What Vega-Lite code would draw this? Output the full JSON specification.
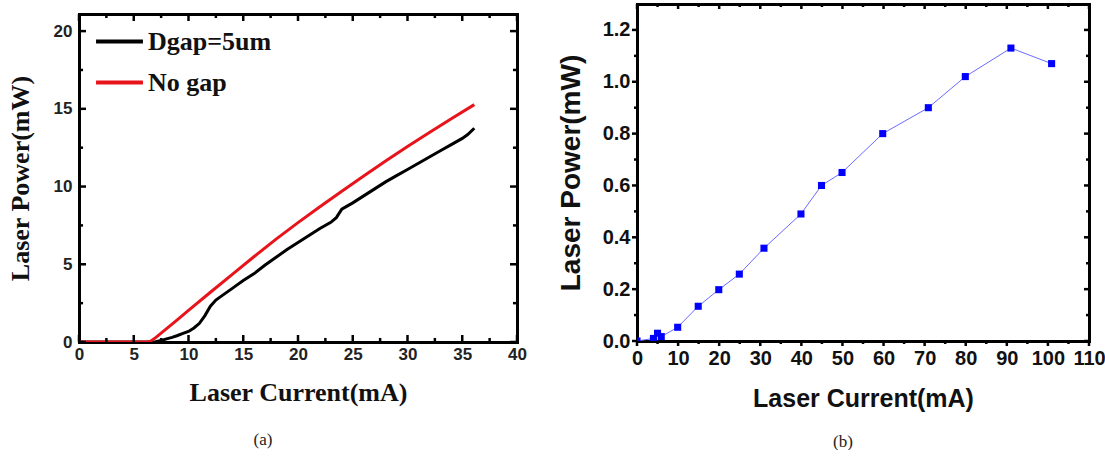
{
  "$schema": "https://vega.github.io/schema/vega-lite/v6.json",
  "padding": {"left": 7, "top": 2, "right": 0, "bottom": 0},
  "background": "white",
  "config": {"view": {"stroke": null}},
  "datasets": {
    "a": [
      {"series": "Dgap=5um", "current": 0, "power": 0},
      {"series": "Dgap=5um", "current": 6.5, "power": 0},
      {"series": "Dgap=5um", "current": 7, "power": 0.02},
      {"series": "Dgap=5um", "current": 7.5, "power": 0.1},
      {"series": "Dgap=5um", "current": 8, "power": 0.2},
      {"series": "Dgap=5um", "current": 8.5, "power": 0.3},
      {"series": "Dgap=5um", "current": 9, "power": 0.42},
      {"series": "Dgap=5um", "current": 9.5, "power": 0.55},
      {"series": "Dgap=5um", "current": 10, "power": 0.68},
      {"series": "Dgap=5um", "current": 10.5, "power": 0.9},
      {"series": "Dgap=5um", "current": 11, "power": 1.2},
      {"series": "Dgap=5um", "current": 11.5, "power": 1.7},
      {"series": "Dgap=5um", "current": 12, "power": 2.3},
      {"series": "Dgap=5um", "current": 12.5, "power": 2.7},
      {"series": "Dgap=5um", "current": 13, "power": 2.95},
      {"series": "Dgap=5um", "current": 14, "power": 3.45},
      {"series": "Dgap=5um", "current": 15, "power": 3.95},
      {"series": "Dgap=5um", "current": 16, "power": 4.4},
      {"series": "Dgap=5um", "current": 17, "power": 4.95},
      {"series": "Dgap=5um", "current": 18, "power": 5.45},
      {"series": "Dgap=5um", "current": 19, "power": 5.95},
      {"series": "Dgap=5um", "current": 20, "power": 6.4},
      {"series": "Dgap=5um", "current": 21, "power": 6.85},
      {"series": "Dgap=5um", "current": 22, "power": 7.3},
      {"series": "Dgap=5um", "current": 23, "power": 7.7},
      {"series": "Dgap=5um", "current": 23.5, "power": 8.0},
      {"series": "Dgap=5um", "current": 24, "power": 8.55},
      {"series": "Dgap=5um", "current": 25, "power": 8.95},
      {"series": "Dgap=5um", "current": 26, "power": 9.4},
      {"series": "Dgap=5um", "current": 27, "power": 9.85},
      {"series": "Dgap=5um", "current": 28, "power": 10.3},
      {"series": "Dgap=5um", "current": 29, "power": 10.7},
      {"series": "Dgap=5um", "current": 30, "power": 11.1},
      {"series": "Dgap=5um", "current": 31, "power": 11.5},
      {"series": "Dgap=5um", "current": 32, "power": 11.9},
      {"series": "Dgap=5um", "current": 33, "power": 12.3},
      {"series": "Dgap=5um", "current": 34, "power": 12.7},
      {"series": "Dgap=5um", "current": 35, "power": 13.1},
      {"series": "Dgap=5um", "current": 35.5, "power": 13.35},
      {"series": "Dgap=5um", "current": 36.1, "power": 13.75},
      {"series": "No gap", "current": 0, "power": 0},
      {"series": "No gap", "current": 6.2, "power": 0},
      {"series": "No gap", "current": 6.5, "power": 0.04},
      {"series": "No gap", "current": 7, "power": 0.28},
      {"series": "No gap", "current": 7.5, "power": 0.57},
      {"series": "No gap", "current": 8, "power": 0.86},
      {"series": "No gap", "current": 9, "power": 1.44},
      {"series": "No gap", "current": 10, "power": 2.03},
      {"series": "No gap", "current": 12, "power": 3.2},
      {"series": "No gap", "current": 14, "power": 4.35},
      {"series": "No gap", "current": 16, "power": 5.5},
      {"series": "No gap", "current": 18, "power": 6.62},
      {"series": "No gap", "current": 20, "power": 7.68},
      {"series": "No gap", "current": 22, "power": 8.7},
      {"series": "No gap", "current": 24, "power": 9.7},
      {"series": "No gap", "current": 26, "power": 10.68},
      {"series": "No gap", "current": 28, "power": 11.64},
      {"series": "No gap", "current": 30, "power": 12.57},
      {"series": "No gap", "current": 32, "power": 13.47},
      {"series": "No gap", "current": 34, "power": 14.36},
      {"series": "No gap", "current": 36.1, "power": 15.27}
    ],
    "b": [
      {"current": 0, "power": 0},
      {"current": 4, "power": 0.01},
      {"current": 5, "power": 0.03},
      {"current": 5.9, "power": 0.017},
      {"current": 9.9, "power": 0.053},
      {"current": 14.9, "power": 0.134},
      {"current": 19.9, "power": 0.198},
      {"current": 24.9, "power": 0.258},
      {"current": 30.9, "power": 0.358},
      {"current": 39.9, "power": 0.49},
      {"current": 44.9, "power": 0.6},
      {"current": 49.9, "power": 0.65},
      {"current": 59.8, "power": 0.8},
      {"current": 70.9, "power": 0.9},
      {"current": 79.9, "power": 1.02},
      {"current": 91, "power": 1.13},
      {"current": 100.9, "power": 1.07}
    ],
    "taxM": [{"v": 0}, {"v": 5}, {"v": 10}, {"v": 15}, {"v": 20}, {"v": 25}, {"v": 30}, {"v": 35}, {"v": 40}],
    "taxm": [{"v": 2.5}, {"v": 7.5}, {"v": 12.5}, {"v": 17.5}, {"v": 22.5}, {"v": 27.5}, {"v": 32.5}, {"v": 37.5}],
    "tayM": [{"v": 0}, {"v": 5}, {"v": 10}, {"v": 15}, {"v": 20}],
    "taym": [{"v": 2.5}, {"v": 7.5}, {"v": 12.5}, {"v": 17.5}],
    "tbxM": [{"v": 0}, {"v": 10}, {"v": 20}, {"v": 30}, {"v": 40}, {"v": 50}, {"v": 60}, {"v": 70}, {"v": 80}, {"v": 90}, {"v": 100}, {"v": 110}],
    "tbxm": [{"v": 5}, {"v": 15}, {"v": 25}, {"v": 35}, {"v": 45}, {"v": 55}, {"v": 65}, {"v": 75}, {"v": 85}, {"v": 95}, {"v": 105}],
    "tbyM": [{"v": 0}, {"v": 0.2}, {"v": 0.4}, {"v": 0.6}, {"v": 0.8}, {"v": 1.0}, {"v": 1.2}],
    "tbym": [{"v": 0.1}, {"v": 0.3}, {"v": 0.5}, {"v": 0.7}, {"v": 0.9}, {"v": 1.1}]
  },
  "spacing": 30,
  "hconcat": [
    {
      "width": 438,
      "height": 338,
      "title": {"text": "(a)", "orient": "bottom", "anchor": "middle", "dx": -35, "offset": 27, "font": "Liberation Serif", "fontSize": 17, "fontWeight": "normal", "color": "#222222"},
      "layer": [
        {
          "data": {"name": "a"},
          "mark": {"type": "line", "strokeWidth": 3, "clip": true},
          "encoding": {
            "x": {"field": "current", "type": "quantitative", "scale": {"domain": [0, 40], "nice": false, "zero": false},
              "axis": {"orient": "bottom", "values": [0,5,10,15,20,25,30,35,40], "ticks": false,
                "domainColor": "black", "domainWidth": 3, "domainCap": "square",
                "labelFont": "Liberation Sans", "labelFontWeight": "bold", "labelFontSize": 17, "labelColor": "#222222", "labelPadding": 4,
                "labelFlush": false, "labelOverlap": false, "grid": false,
                "title": "Laser Current(mA)", "titleFont": "Liberation Serif", "titleFontSize": 26, "titleFontWeight": "bold", "titleColor": "#111111", "titlePadding": 17}},
            "y": {"field": "power", "type": "quantitative", "scale": {"domain": [0, 21.1], "nice": false, "range": [338, 10]},
              "axis": {"orient": "left", "values": [0,5,10,15,20], "ticks": false,
                "domainColor": "black", "domainWidth": 3, "domainCap": "square",
                "labelFont": "Liberation Sans", "labelFontWeight": "bold", "labelFontSize": 17, "labelColor": "#222222", "labelPadding": 7,
                "labelFlush": false, "labelOverlap": false, "grid": false,
                "title": "Laser Power(mW)", "titleFont": "Liberation Serif", "titleFontSize": 26, "titleFontWeight": "bold", "titleColor": "#111111", "titlePadding": 20}},
            "color": {"field": "series", "type": "nominal",
              "scale": {"domain": ["Dgap=5um", "No gap"], "range": ["#000000", "#e8141b"]},
              "legend": {"orient": "none", "legendX": 15, "legendY": 12, "title": null, "symbolType": "stroke", "symbolSize": 2200, "symbolStrokeWidth": 4,
                "labelFont": "Liberation Serif", "labelFontWeight": "bold", "labelFontSize": 26, "labelColor": "#111111", "labelOffset": 3, "rowPadding": 2}}
          }
        },
        {
          "data": {"name": "a"},
          "mark": {"type": "point", "opacity": 0},
          "encoding": {
            "x": {"field": "current", "type": "quantitative",
              "axis": {"orient": "top", "offset": -10, "labels": false, "ticks": false,
                "domainColor": "black", "domainWidth": 3, "domainCap": "square", "grid": false, "title": null}},
            "y": {"field": "power", "type": "quantitative",
              "axis": {"orient": "right", "labels": false, "ticks": false,
                "domainColor": "black", "domainWidth": 3, "domainCap": "square", "grid": false, "title": null}}
          }
        },
        {"data": {"name": "taxM"}, "mark": {"type": "rule", "strokeWidth": 2.5, "color": "black"},
          "encoding": {"x": {"field": "v", "type": "quantitative", "axis": null}, "y": {"datum": 0, "axis": null}, "y2": {"datum": 0.45}}},
        {"data": {"name": "taxm"}, "mark": {"type": "rule", "strokeWidth": 2.5, "color": "black"},
          "encoding": {"x": {"field": "v", "type": "quantitative", "axis": null}, "y": {"datum": 0, "axis": null}, "y2": {"datum": 0.26}}},
        {"data": {"name": "taxM"}, "mark": {"type": "rule", "strokeWidth": 2.5, "color": "black"},
          "encoding": {"x": {"field": "v", "type": "quantitative", "axis": null}, "y": {"datum": 21.1, "axis": null}, "y2": {"datum": 20.65}}},
        {"data": {"name": "taxm"}, "mark": {"type": "rule", "strokeWidth": 2.5, "color": "black"},
          "encoding": {"x": {"field": "v", "type": "quantitative", "axis": null}, "y": {"datum": 21.1, "axis": null}, "y2": {"datum": 20.84}}},
        {"data": {"name": "tayM"}, "mark": {"type": "rule", "strokeWidth": 2.5, "color": "black"},
          "encoding": {"y": {"field": "v", "type": "quantitative", "axis": null}, "x": {"datum": 0, "axis": null}, "x2": {"datum": 0.64}}},
        {"data": {"name": "taym"}, "mark": {"type": "rule", "strokeWidth": 2.5, "color": "black"},
          "encoding": {"y": {"field": "v", "type": "quantitative", "axis": null}, "x": {"datum": 0, "axis": null}, "x2": {"datum": 0.37}}},
        {"data": {"name": "tayM"}, "mark": {"type": "rule", "strokeWidth": 2.5, "color": "black"},
          "encoding": {"y": {"field": "v", "type": "quantitative", "axis": null}, "x": {"datum": 40, "axis": null}, "x2": {"datum": 39.36}}},
        {"data": {"name": "taym"}, "mark": {"type": "rule", "strokeWidth": 2.5, "color": "black"},
          "encoding": {"y": {"field": "v", "type": "quantitative", "axis": null}, "x": {"datum": 40, "axis": null}, "x2": {"datum": 39.63}}}
      ],
      "resolve": {"axis": {"x": "independent", "y": "independent"}}
    },
    {
      "width": 452,
      "height": 337,
      "title": {"text": "(b)", "orient": "bottom", "anchor": "middle", "dx": -20, "offset": 23, "font": "Liberation Serif", "fontSize": 17, "fontWeight": "normal", "color": "#222222"},
      "layer": [
        {
          "data": {"name": "b"},
          "mark": {"type": "line", "color": "#6b6bff", "strokeWidth": 1, "clip": true,
            "point": {"shape": "square", "size": 50, "filled": true, "color": "#0000ff", "opacity": 1}},
          "encoding": {
            "x": {"field": "current", "type": "quantitative", "scale": {"domain": [0, 110], "nice": false},
              "axis": {"orient": "bottom", "values": [0,10,20,30,40,50,60,70,80,90,100,110], "ticks": false,
                "domainColor": "black", "domainWidth": 3, "domainCap": "square",
                "labelFont": "Liberation Sans", "labelFontWeight": "bold", "labelFontSize": 20, "labelColor": "#111111", "labelPadding": 7,
                "labelFlush": false, "labelOverlap": false, "grid": false,
                "title": "Laser Current(mA)", "titleFont": "Liberation Sans", "titleFontSize": 25, "titleFontWeight": "bold", "titleColor": "#111111", "titlePadding": 18}},
            "y": {"field": "power", "type": "quantitative", "scale": {"domain": [0, 1.3], "nice": false},
              "axis": {"orient": "left", "values": [0,0.2,0.4,0.6,0.8,1.0,1.2], "format": ".1f", "ticks": false,
                "domainColor": "black", "domainWidth": 3, "domainCap": "square",
                "labelFont": "Liberation Sans", "labelFontWeight": "bold", "labelFontSize": 20, "labelColor": "#111111", "labelPadding": 7,
                "labelFlush": false, "labelOverlap": false, "grid": false,
                "title": "Laser Power(mW)", "titleFont": "Liberation Sans", "titleFontSize": 28, "titleFontWeight": "bold", "titleColor": "#111111", "titlePadding": 17}}
          }
        },
        {
          "data": {"name": "b"},
          "mark": {"type": "point", "opacity": 0},
          "encoding": {
            "x": {"field": "current", "type": "quantitative",
              "axis": {"orient": "top", "labels": false, "ticks": false,
                "domainColor": "black", "domainWidth": 3, "domainCap": "square", "grid": false, "title": null}},
            "y": {"field": "power", "type": "quantitative",
              "axis": {"orient": "right", "labels": false, "ticks": false,
                "domainColor": "black", "domainWidth": 3, "domainCap": "square", "grid": false, "title": null}}
          }
        },
        {"data": {"name": "tbxM"}, "mark": {"type": "rule", "strokeWidth": 2.5, "color": "black"},
          "encoding": {"x": {"field": "v", "type": "quantitative", "axis": null}, "y": {"datum": 0, "axis": null}, "y2": {"datum": -0.0193}}},
        {"data": {"name": "tbxm"}, "mark": {"type": "rule", "strokeWidth": 2.5, "color": "black"},
          "encoding": {"x": {"field": "v", "type": "quantitative", "axis": null}, "y": {"datum": 0, "axis": null}, "y2": {"datum": -0.0116}}},
        {"data": {"name": "tbxM"}, "mark": {"type": "rule", "strokeWidth": 2.5, "color": "black"},
          "encoding": {"x": {"field": "v", "type": "quantitative", "axis": null}, "y": {"datum": 1.3, "axis": null}, "y2": {"datum": 1.2807}}},
        {"data": {"name": "tbxm"}, "mark": {"type": "rule", "strokeWidth": 2.5, "color": "black"},
          "encoding": {"x": {"field": "v", "type": "quantitative", "axis": null}, "y": {"datum": 1.3, "axis": null}, "y2": {"datum": 1.2884}}},
        {"data": {"name": "tbyM"}, "mark": {"type": "rule", "strokeWidth": 2.5, "color": "black"},
          "encoding": {"y": {"field": "v", "type": "quantitative", "axis": null}, "x": {"datum": 0, "axis": null}, "x2": {"datum": -1.217}}},
        {"data": {"name": "tbym"}, "mark": {"type": "rule", "strokeWidth": 2.5, "color": "black"},
          "encoding": {"y": {"field": "v", "type": "quantitative", "axis": null}, "x": {"datum": 0, "axis": null}, "x2": {"datum": -0.73}}},
        {"data": {"name": "tbyM"}, "mark": {"type": "rule", "strokeWidth": 2.5, "color": "black"},
          "encoding": {"y": {"field": "v", "type": "quantitative", "axis": null}, "x": {"datum": 110, "axis": null}, "x2": {"datum": 108.78}}},
        {"data": {"name": "tbym"}, "mark": {"type": "rule", "strokeWidth": 2.5, "color": "black"},
          "encoding": {"y": {"field": "v", "type": "quantitative", "axis": null}, "x": {"datum": 110, "axis": null}, "x2": {"datum": 109.27}}}
      ],
      "resolve": {"axis": {"x": "independent", "y": "independent"}}
    }
  ]
}
